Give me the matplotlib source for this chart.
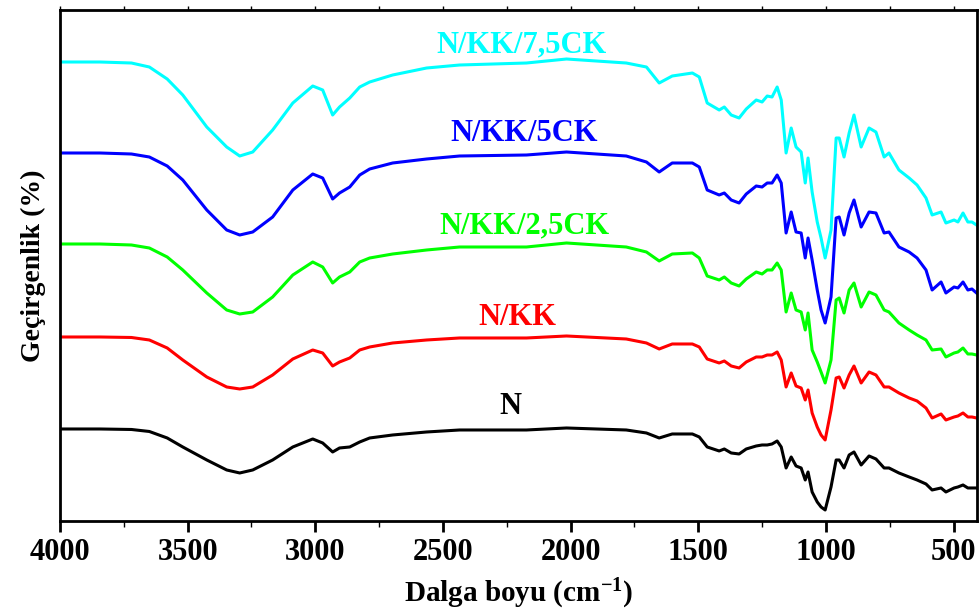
import matplotlib
matplotlib.use("Agg")
import matplotlib.pyplot as plt
from matplotlib.ticker import MultipleLocator

plt.rcParams['font.family'] = ['Liberation Serif', 'DejaVu Serif']
plt.rcParams['font.weight'] = 'bold'
plt.rcParams['mathtext.fontset'] = 'custom'
plt.rcParams['mathtext.rm'] = 'Liberation Serif:bold'
plt.rcParams['mathtext.bf'] = 'Liberation Serif:bold'
plt.rcParams['mathtext.default'] = 'bf'

# wavenumbers (cm-1), shared by all spectra
wn = [4000, 3843, 3720, 3650, 3580, 3519, 3425, 3347, 3296, 3245, 3167,
      3088, 3010, 2971, 2932, 2905, 2865, 2826, 2787, 2697, 2564,
      2435, 2173, 2016, 1782, 1703, 1653, 1602, 1523, 1496, 1465,
      1418, 1398, 1371, 1340, 1312, 1273, 1250, 1230, 1211, 1191,
      1175, 1156, 1136, 1117, 1097, 1081, 1070, 1054, 1034, 1019,
      1003, 980, 960, 948, 929, 909, 890, 862, 831, 804,
      772, 753, 714, 674, 643, 608, 584, 549, 530, 498,
      483, 463, 444, 428, 410]

# transmittance (offset, arbitrary units)
t_n = [18.4, 18.4, 18.3, 17.9, 16.6, 14.8, 12.2, 10.2, 9.6, 10.2, 12.2,
       14.8, 16.4, 15.6, 13.8, 14.6, 14.8, 15.8, 16.6, 17.2, 17.8,
       18.2, 18.2, 18.6, 18.2, 17.6, 16.6, 17.4, 17.4, 16.8, 14.8,
       14.0, 14.4, 13.6, 13.4, 14.4, 15.0, 15.2, 15.2, 15.4, 16.0,
       14.8, 10.6, 12.8, 11.0, 10.6, 8.2, 9.8, 5.8, 3.8, 2.8,
       2.2, 6.8, 12.2, 12.2, 10.6, 13.2, 13.8, 11.2, 13.0, 12.4,
       10.6, 10.6, 9.6, 8.8, 8.2, 7.4, 6.2, 6.6, 5.8, 6.6,
       6.8, 7.2, 6.6, 6.6, 6.6]

t_nkk = [36.8, 36.8, 36.7, 36.2, 34.6, 32.2, 28.8, 26.8, 26.4, 26.8, 29.2,
         32.4, 34.2, 33.6, 31.0, 31.8, 32.6, 34.2, 34.8, 35.6, 36.2,
         36.6, 36.6, 37.0, 36.4, 35.6, 34.4, 35.4, 35.4, 34.8, 32.4,
         31.6, 32.0, 31.0, 30.6, 31.8, 32.8, 32.8, 33.2, 33.2, 33.8,
         32.2, 26.8, 29.6, 27.0, 26.6, 24.2, 26.2, 21.6, 18.8, 17.2,
         16.2, 22.2, 28.6, 28.8, 26.6, 29.2, 31.0, 27.6, 29.8, 29.2,
         26.8, 26.8, 25.6, 24.6, 24.0, 22.6, 20.6, 21.4, 20.2, 20.8,
         21.0, 21.6, 20.8, 20.8, 20.6]

t_25ck = [55.4, 55.4, 55.2, 54.6, 52.8, 50.2, 45.6, 42.2, 41.4, 41.8, 44.8,
          49.2, 51.8, 50.8, 47.6, 48.8, 49.8, 51.8, 52.6, 53.4, 54.2,
          54.8, 54.8, 55.6, 54.8, 53.8, 52.0, 53.4, 53.6, 52.6, 49.0,
          48.2, 48.8, 47.6, 47.0, 48.4, 49.8, 49.4, 50.2, 50.2, 51.6,
          50.2, 41.8, 45.6, 42.2, 41.8, 38.2, 41.6, 34.2, 31.8, 29.8,
          27.6, 32.2, 44.2, 44.6, 41.6, 46.2, 47.6, 42.8, 45.8, 45.2,
          42.2, 41.8, 39.6, 38.2, 37.2, 36.2, 34.2, 34.4, 32.8, 33.6,
          33.8, 34.6, 33.4, 33.4, 33.2]

t_5ck = [73.6, 73.6, 73.4, 72.8, 71.0, 68.2, 62.2, 58.2, 57.2, 57.8, 60.8,
         66.2, 69.4, 68.6, 64.4, 65.6, 66.8, 69.2, 70.4, 71.6, 72.4,
         73.0, 73.2, 73.8, 73.0, 71.8, 69.8, 71.6, 71.6, 70.8, 66.2,
         65.2, 65.6, 64.2, 63.6, 65.4, 67.0, 66.8, 67.6, 67.6, 69.2,
         67.6, 57.6, 61.8, 57.8, 57.6, 52.6, 56.6, 52.2, 46.2, 42.2,
         39.6, 44.8, 60.6, 60.8, 57.2, 61.6, 64.2, 58.8, 61.8, 61.6,
         57.6, 57.8, 54.8, 53.8, 52.6, 50.2, 46.2, 47.8, 45.6, 46.8,
         46.6, 47.8, 46.2, 46.4, 45.6]

t_75ck = [91.8, 91.8, 91.6, 90.8, 88.4, 85.2, 78.8, 74.8, 73.0, 73.8, 78.2,
          83.6, 87.0, 86.2, 81.2, 82.8, 84.6, 86.8, 87.8, 89.2, 90.6,
          91.2, 91.6, 92.4, 91.6, 90.8, 87.6, 89.0, 89.6, 88.8, 83.6,
          82.2, 82.8, 81.2, 80.6, 82.4, 84.2, 83.8, 85.0, 84.8, 86.8,
          84.2, 73.6, 78.6, 74.8, 73.8, 67.6, 72.6, 65.8, 59.8, 56.6,
          52.6, 58.2, 76.6, 76.6, 72.8, 77.6, 81.2, 74.8, 78.6, 77.8,
          72.8, 73.6, 70.2, 68.6, 67.2, 64.6, 61.2, 61.8, 59.6, 60.2,
          59.8, 61.6, 59.8, 59.8, 59.2]

labels = ['N', 'N/KK', 'N/KK/2,5CK', 'N/KK/5CK', 'N/KK/7,5CK']
colors = ['black', '#ff0000', '#00ff00', '#0000ff', '#00ffff']
series = [t_n, t_nkk, t_25ck, t_5ck, t_75ck]
# where each label sits (wavenumber, transmittance)
label_x = [2236, 2210, 2181, 2181, 2193]
label_y = [22.8, 40.6, 59.0, 77.6, 95.2]

fig = plt.figure(figsize=(9.8, 6.14), dpi=100)
ax = fig.add_axes([0.0612, 0.1515, 0.9358, 0.8322])

for t, c in zip(series, colors):
    ax.plot(wn, t, color=c, lw=2.2, solid_joinstyle='round')

for lab, c, x, y in zip(labels, colors, label_x, label_y):
    ax.text(x, y, lab, color=c, fontsize=22, fontweight='bold',
            ha='center', va='center')

ax.set_xlim(4000, 408)
ax.set_ylim(0, 102.2)
ax.xaxis.set_major_locator(MultipleLocator(500))
ax.xaxis.set_minor_locator(MultipleLocator(250))
ax.set_yticks([])
ax.tick_params(axis='x', which='major', direction='out', length=8, width=2,
               labelsize=22, pad=4)
ax.tick_params(axis='x', which='minor', direction='out', length=4, width=1)
for s in ax.spines.values():
    s.set_linewidth(2)

top = ax.secondary_xaxis('top')
top.xaxis.set_major_locator(MultipleLocator(250))
top.tick_params(direction='out', length=3, width=1, labeltop=False)

ax.set_xlabel('Dalga boyu (cm$^{-1}$)', fontsize=21, fontweight='bold', labelpad=7)
ax.set_ylabel('Geçirgenlik (%)', fontsize=20, fontweight='bold', labelpad=10)

fig.savefig('out.png', dpi=100)
